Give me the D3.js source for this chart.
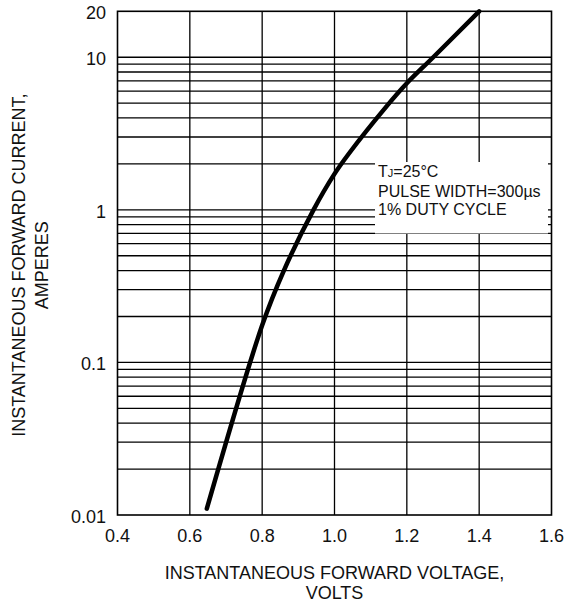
<!DOCTYPE html>
<html>
<head>
<meta charset="utf-8">
<script src="https://cdn.jsdelivr.net/npm/d3@7"></script>
<style>
  html, body { margin: 0; padding: 0; background: #fff; }
  svg { display: block; font-family: "Liberation Sans", Arial, sans-serif; }
</style>
</head>
<body>
<svg id="chart" width="567" height="609"></svg>
<script>
// ---- data ----
const voltage = [0.647, 0.80, 0.86, 0.942, 1.0, 1.04, 1.145, 1.2, 1.273, 1.4];
const current = [0.011, 0.175, 0.40, 1.0, 1.72, 2.34, 4.8, 6.75, 10, 20];
const xTicks = [0.4, 0.6, 0.8, 1.0, 1.2, 1.4, 1.6];
const xTickLabels = ["0.4", "0.6", "0.8", "1.0", "1.2", "1.4", "1.6"];
const yTicks = [0.01, 0.1, 1, 10, 20];
const yTickLabels = ["0.01", "0.1", "1", "10", "20"];
const yGrid = [0.02,0.03,0.04,0.05,0.06,0.07,0.08,0.09,0.1,
               0.2,0.3,0.4,0.5,0.6,0.7,0.8,0.9,1,
               2,3,4,5,6,7,8,9,10];
const noteLines = ["PULSE WIDTH=300\u00B5s", "1% DUTY CYCLE"];
const xTitle = ["INSTANTANEOUS FORWARD VOLTAGE,", "VOLTS"];
const yTitle = ["INSTANTANEOUS FORWARD CURRENT,", "AMPERES"];

const svg = d3.select("#chart");
const L = 117.5, R = 551.5, T = 11.3, B = 515;
const x = d3.scaleLinear().domain([0.4, 1.6]).range([L, R]);
const y = d3.scaleLog().domain([0.01, 20]).range([B, T]);

const grid = svg.append("g").attr("stroke", "#000").attr("stroke-width", 1.3);
grid.selectAll("line.h").data(yGrid).join("line")
  .attr("x1", L).attr("x2", R)
  .attr("y1", d => y(d)).attr("y2", d => y(d));
grid.selectAll("line.v").data(xTicks.slice(1, -1)).join("line")
  .attr("y1", T).attr("y2", B)
  .attr("x1", d => x(d)).attr("x2", d => x(d));

// note box (white, hides grid)
const bx0 = 375, by0 = 162, bx1 = 548, by1 = 233.5;
svg.append("rect").attr("x", bx0).attr("y", by0).attr("width", bx1 - bx0).attr("height", by1 - by0)
  .attr("fill", "#fff");

// frame
svg.append("rect").attr("x", L).attr("y", T).attr("width", R - L).attr("height", B - T)
  .attr("fill", "none").attr("stroke", "#000").attr("stroke-width", 1.6);

// curve
const line = d3.line().x(d => x(d[0])).y(d => y(d[1])).curve(d3.curveCatmullRom.alpha(0.5));
svg.append("path").datum(voltage.map((v, i) => [v, current[i]]))
  .attr("d", line).attr("fill", "none").attr("stroke", "#000")
  .attr("stroke-width", 4.5).attr("stroke-linecap", "round").attr("stroke-linejoin", "round");

// note text
const nt = svg.append("text").attr("x", 378).attr("y", 177).attr("font-size", 16).attr("fill", "#111");
nt.append("tspan").text("T");
nt.append("tspan").attr("font-size", 11).text("J");
nt.append("tspan").text("=25\u00B0C");
noteLines.forEach((s, i) => {
  svg.append("text").attr("x", 378).attr("y", 196.5 + i * 18.7).attr("font-size", 16).attr("fill", "#111").text(s);
});

// tick labels
svg.append("g").selectAll("text").data(xTicks).join("text")
  .attr("x", d => x(d)).attr("y", 542).attr("text-anchor", "middle")
  .attr("font-size", 18).attr("fill", "#111")
  .text((d, i) => xTickLabels[i]);
svg.append("g").selectAll("text").data(yTicks).join("text")
  .attr("x", 106).attr("y", d => y(d) + 8).attr("text-anchor", "end")
  .attr("font-size", 18).attr("fill", "#111")
  .text((d, i) => yTickLabels[i]);

// axis titles
xTitle.forEach((s, i) => {
  svg.append("text").attr("x", (L + R) / 2).attr("y", 579 + i * 20).attr("text-anchor", "middle")
    .attr("font-size", 18).attr("fill", "#111").text(s);
});
yTitle.forEach((s, i) => {
  svg.append("text").attr("transform", `translate(${25 + i * 23},${(T + B) / 2 + 2}) rotate(-90)`)
    .attr("text-anchor", "middle").attr("font-size", 18).attr("fill", "#111").text(s);
});
</script>
</body>
</html>
